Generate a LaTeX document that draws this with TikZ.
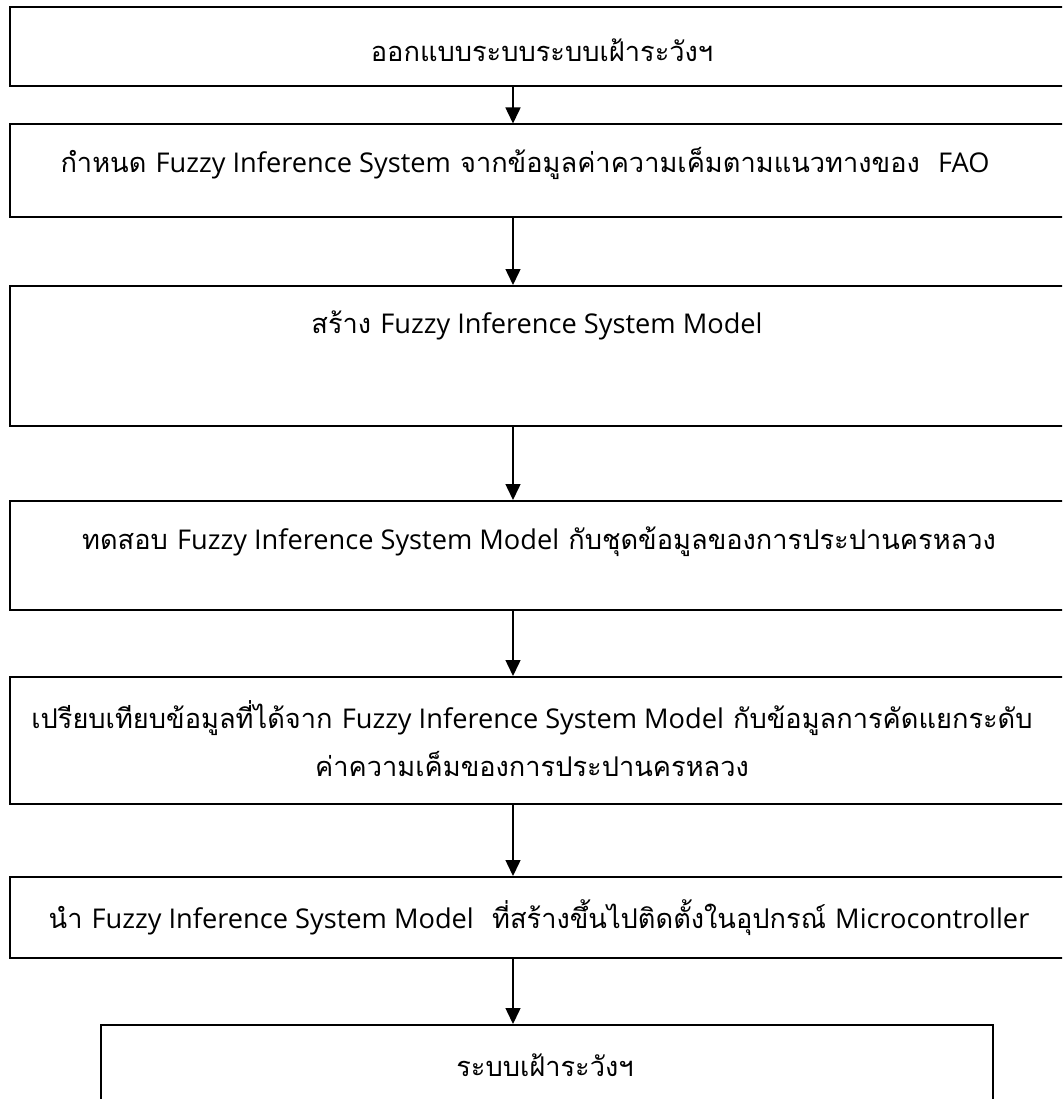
\documentclass[tikz,border=0pt]{standalone}
\usepackage{fontspec}
\usetikzlibrary{arrows.meta}
\newfontfamily\thaifont[Script=Thai]{Loma}
\newfontfamily\lat{Open Sans}
\newcommand{\fis}[1]{{\lat #1}}
\begin{document}
\begin{tikzpicture}[x=1pt,y=-1pt,
  box/.style={draw=black,line width=2pt,rectangle,inner sep=0pt,minimum width=1070.5pt},
  lbl/.style={font=\thaifont\fontsize{27.2}{48}\selectfont,inner sep=0pt,align=center},
  arr/.style={draw=black,line width=1.5pt,-{Triangle[width=15pt,length=16pt]}}]
\useasboundingbox (0,0) rectangle (1062,1099);
\clip (0,0) rectangle (1062,1099);
\coordinate (ax) at (513,0);
\node[box,minimum height=78.5pt]  (b1) at (544.75,46.75) {};
\node[box,minimum height=92.5pt]  (b2) at (544.75,170.75) {};
\node[box,minimum height=140pt]   (b3) at (544.75,356) {};
\node[box,minimum height=109pt]   (b4) at (544.75,555.5) {};
\node[box,minimum height=127pt]   (b5) at (544.75,740.5) {};
\node[box,minimum height=81pt]    (b6) at (544.75,917.5) {};
\node[box,minimum width=892pt,minimum height=90pt] (b7) at (547,1070) {};
\node[lbl] (t1) at (542,50) {ออกแบบระบบระบบเฝ้าระวังฯ};
\node[lbl] (t2) at (525,163) {กำหนด \fis{Fuzzy Inference System} จากข้อมูลค่าความเค็มตามแนวทางของ\ \ \fis{FAO}};
\node[lbl] (t3) at (537,325) {สร้าง \fis{Fuzzy Inference System Model}};
\node[lbl] (t4) at (539,542) {ทดสอบ \fis{Fuzzy Inference System Model} กับชุดข้อมูลของการประปานครหลวง};
\node[lbl] (t5) at (532,739) {เปรียบเทียบข้อมูลที่ได้จาก \fis{Fuzzy Inference System Model} กับข้อมูลการคัดแยกระดับ\\ค่าความเค็มของการประปานครหลวง};
\node[lbl] (t6) at (539,918) {นำ \fis{Fuzzy Inference System Model}\ \ ที่สร้างขึ้นไปติดตั้งในอุปกรณ์ \fis{Microcontroller}};
\node[lbl] (t7) at (545,1065) {ระบบเฝ้าระวังฯ};
\draw[arr] (b1.south -| ax) -- (b2.north -| ax);
\draw[arr] (b2.south -| ax) -- (b3.north -| ax);
\draw[arr] (b3.south -| ax) -- (b4.north -| ax);
\draw[arr] (b4.south -| ax) -- (b5.north -| ax);
\draw[arr] (b5.south -| ax) -- (b6.north -| ax);
\draw[arr] (b6.south -| ax) -- (b7.north -| ax);
\end{tikzpicture}
\end{document}
